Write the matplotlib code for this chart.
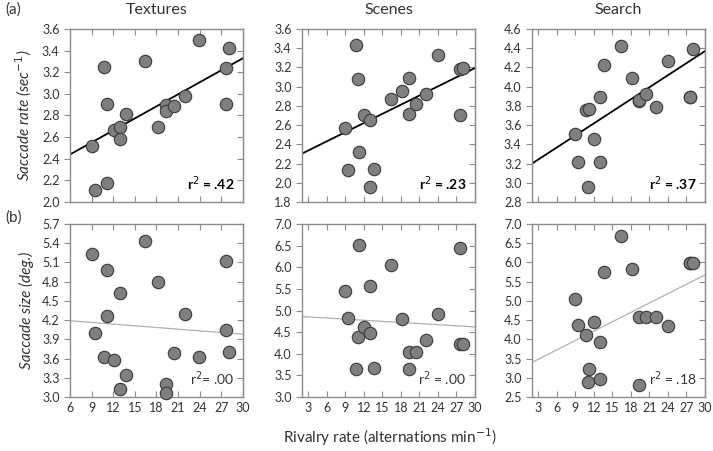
import matplotlib
matplotlib.use("Agg")
import matplotlib.pyplot as plt
import numpy as np

plt.rcParams['font.family'] = ['Lato', 'DejaVu Sans']

# Rivalry rate (alternations / min) per subject
rivalry = [9.0, 9.5, 10.7, 11.1, 11.2, 12.1, 13.0, 12.95, 13.7, 16.45,
           18.2, 19.3, 19.3, 20.4, 22.0, 23.95, 27.6, 27.65, 28.0]

# Saccade rate (sec^-1)
tex_rate = [2.52, 2.11, 3.245, 2.91, 2.18, 2.67, 2.69, 2.58, 2.81, 3.30,
            2.69, 2.90, 2.84, 2.89, 2.98, 3.495, 2.91, 3.235, 3.425]
scn_rate = [2.57, 2.13, 3.43, 3.08, 2.32, 2.71, 2.65, 1.96, 2.14, 2.87,
            2.96, 3.09, 2.72, 2.82, 2.92, 3.33, 2.70, 3.18, 3.19]
srch_rate = [3.51, 3.22, 3.76, 2.96, 3.77, 3.46, 3.89, 3.22, 4.23, 4.42,
             4.09, 3.85, 3.86, 3.92, 3.79, 4.265, 3.89, 3.89, 4.39]

# Saccade size (deg.)
tex_size = [5.23, 4.00, 3.62, 4.27, 4.98, 3.58, 4.63, 3.125, 3.35, 5.44,
            4.80, 3.21, 3.06, 3.69, 4.30, 3.62, 5.13, 4.05, 3.705]
scn_size = [5.45, 4.83, 3.65, 4.38, 6.52, 4.61, 5.57, 4.48, 3.67, 6.05,
            4.80, 4.04, 3.655, 4.04, 4.31, 4.92, 6.45, 4.22, 4.22]
srch_size = [5.05, 4.36, 4.12, 2.90, 3.24, 4.44, 3.94, 2.97, 5.75, 6.68,
             5.83, 4.59, 2.81, 4.57, 4.57, 4.35, 5.98, 5.98, 5.98]

# Regression lines: (intercept, slope)
fits_top = [(2.217, 0.0371), (2.24, 0.0318), (3.116, 0.0418)]
fits_bot = [(4.2425, -0.00875), (4.877, -0.00857), (3.237, 0.0813)]
r2_top = ['.42', '.23', '.37']
r2_bot = ['.00', '.00', '.18']
r2_bot_fmt = ['r$^2$= {}', 'r$^2$ = {}', 'r$^2$ = {}']

titles = ['Textures', 'Scenes', 'Search']
xlims = [(6, 30), (2, 30), (2, 30)]
xticks = [np.arange(6, 31, 3), np.arange(3, 31, 3), np.arange(3, 31, 3)]
top_ylims = [(2.0, 3.6), (1.8, 3.6), (2.8, 4.6)]
top_yticks = [np.arange(2.0, 3.61, 0.2), np.arange(1.8, 3.61, 0.2), np.arange(2.8, 4.61, 0.2)]
bot_ylims = [(3.0, 5.7), (3.0, 7.0), (2.5, 7.0)]
bot_yticks = [np.arange(3.0, 5.71, 0.3), np.arange(3.0, 7.01, 0.5), np.arange(2.5, 7.01, 0.5)]

top_data = [tex_rate, scn_rate, srch_rate]
bot_data = [tex_size, scn_size, srch_size]

fig = plt.figure(figsize=(7.13, 4.51), dpi=100)
lefts = [70 / 713, 302 / 713, 532 / 713]
w = 173 / 713
h = 173 / 451
bottoms = [1 - 202 / 451, 1 - 397 / 451]

spine_col = '#8c8c8c'
text_col = '#333333'

def style(ax):
    for s in ax.spines.values():
        s.set_color(spine_col)
        s.set_linewidth(1.0)
    ax.tick_params(axis='both', colors=spine_col, labelcolor=text_col,
                   labelsize=9, length=4, width=0.8)
    ax.tick_params(axis='y', which='both', direction='out', left=True, right=False)
    ax.tick_params(axis='x', which='both', direction='in', top=True, bottom=True)
    ax.yaxis.set_ticks_position('left')
    sec = ax.secondary_yaxis('right')
    sec.set_yticks(ax.get_yticks())
    sec.tick_params(direction='in', length=4, width=0.8, colors=spine_col, labelright=False)
    sec.spines['right'].set_color(spine_col)

for row in range(2):
    for col in range(3):
        ax = fig.add_axes([lefts[col], bottoms[row], w, h])
        x = np.array(rivalry)
        if row == 0:
            y = top_data[col]
            ylim, yt = top_ylims[col], top_yticks[col]
            b, m = fits_top[col]
            lc, lw = 'black', 1.3
        else:
            y = bot_data[col]
            ylim, yt = bot_ylims[col], bot_yticks[col]
            b, m = fits_bot[col]
            lc, lw = '#b0b0b0', 0.9
        ax.set_xlim(*xlims[col])
        ax.set_ylim(*ylim)
        ax.set_xticks(xticks[col])
        ax.set_yticks(yt)
        ax.set_yticklabels([f'{v:.1f}' for v in yt])
        xx = np.array(xlims[col], dtype=float)
        ax.plot(xx, b + m * xx, color=lc, lw=lw, zorder=2)
        ax.scatter(x, y, s=80, facecolor='#7f7f7f', edgecolor='#3a3a3a',
                   linewidth=0.8, zorder=3, clip_on=False)
        style(ax)
        if row == 0:
            ax.set_xticklabels([])
            ax.set_title(titles[col], fontsize=11.5, color=text_col, pad=11)
            ax.text(0.95, 0.05, f'r$^2$ = {r2_top[col]}', transform=ax.transAxes,
                    ha='right', va='bottom', fontsize=10, fontweight='bold', color='black')
        else:
            ax.text(0.95, 0.05, r2_bot_fmt[col].format(r2_bot[col]), transform=ax.transAxes,
                    ha='right', va='bottom', fontsize=10, color=text_col)
        if col == 0:
            lab = 'Saccade rate (sec$^{-1}$)' if row == 0 else 'Saccade size (deg.)'
            ax.set_ylabel(lab, fontsize=11, style='italic', color=text_col, labelpad=6)

fig.text(5 / 713, 1 - 10 / 451, '(a)', fontsize=11, color=text_col, va='center')
fig.text(5 / 713, 1 - 218 / 451, '(b)', fontsize=11, color=text_col, va='center')
fig.text(390 / 713, 1 - 437 / 451, 'Rivalry rate (alternations min$^{-1}$)',
         fontsize=11, color=text_col, ha='center', va='center')

fig.savefig('out.png', dpi=100)
